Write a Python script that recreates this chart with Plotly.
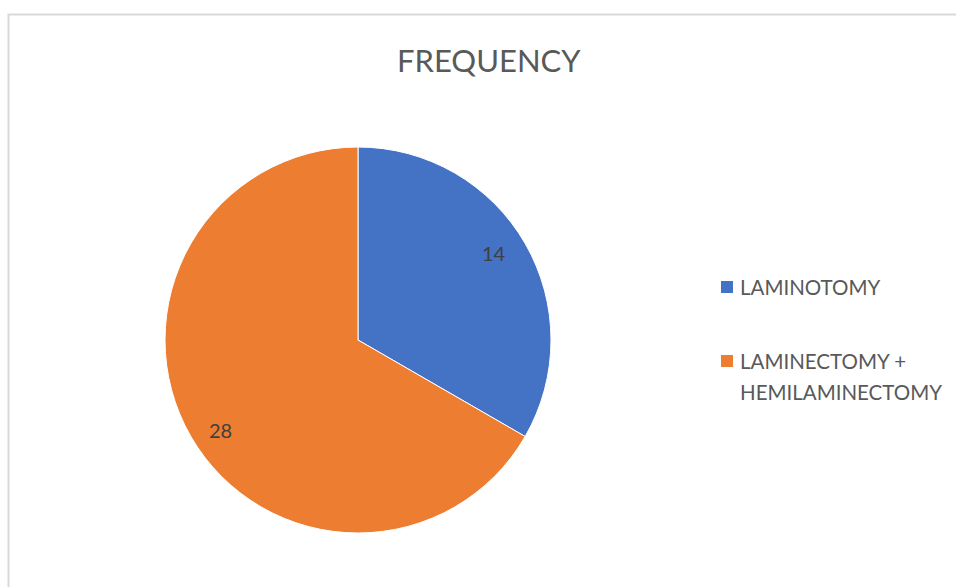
import math
import plotly.graph_objects as go

# Procedure counts
labels = ["LAMINOTOMY", "LAMINECTOMY +<br>HEMILAMINECTOMY"]
values = [14, 28]
colors = ["#4472C4", "#ED7D31"]
title_text = "FREQUENCY"

W, H = 956, 587
CX, CY, R = 358, 340, 193  # pie centre and radius in pixels
FONT = "Lato"
LABEL_NUDGE = [(-4, -6), (3, 9)]  # small pixel nudges for the value labels

def px(x):
    return x / W

def py(y):
    return 1 - y / H

fig = go.Figure(
    go.Pie(
        labels=labels,
        values=values,
        marker=dict(colors=colors, line=dict(color="white", width=1)),
        sort=False,
        direction="clockwise",
        rotation=0,
        textinfo="none",
        showlegend=False,
        domain=dict(x=[px(CX - R), px(CX + R)], y=[py(CY + R), py(CY - R)]),
    )
)

annotations = []

# value labels at each slice's mid-angle
total = sum(values)
cum = 0
for v, (nx, ny) in zip(values, LABEL_NUDGE):
    mid = (cum + v / 2) / total * 2 * math.pi
    cum += v
    rr = 0.84 * R
    x = CX + rr * math.sin(mid) + nx
    y = CY - rr * math.cos(mid) + ny
    annotations.append(dict(
        x=px(x), y=py(y), xref="paper", yref="paper", text=str(v),
        showarrow=False, xanchor="center", yanchor="middle",
        font=dict(family=FONT, size=20, color="#404040"),
    ))

# title
annotations.append(dict(
    x=px(489), y=py(60), xref="paper", yref="paper", text=title_text,
    showarrow=False, xanchor="center", yanchor="middle",
    font=dict(family=FONT, size=31, color="#595959"),
))

# legend: coloured squares with labels
shapes = []
legend_y = [287, 361]
line_gap = 31
for lab, col, ly in zip(labels, colors, legend_y):
    shapes.append(dict(
        type="rect", xref="paper", yref="paper",
        x0=px(721), x1=px(733), y0=py(ly + 6), y1=py(ly - 6),
        fillcolor=col, line=dict(width=0),
    ))
    for i, part in enumerate(lab.split("<br>")):
        annotations.append(dict(
            x=px(738), y=py(ly + i * line_gap), xref="paper", yref="paper",
            text=part, showarrow=False, xanchor="left", yanchor="middle",
            font=dict(family=FONT, size=20.5, color="#595959"),
        ))

# chart area frame
shapes.append(dict(
    type="rect", xref="paper", yref="paper",
    x0=px(8.5), x1=px(W + 10), y0=py(H + 10), y1=py(14.5),
    line=dict(color="#D9D9D9", width=2), fillcolor="rgba(0,0,0,0)",
))

fig.update_layout(
    width=W, height=H,
    margin=dict(l=0, r=0, t=0, b=0),
    paper_bgcolor="white",
    plot_bgcolor="white",
    annotations=annotations,
    shapes=shapes,
)

fig.write_html("out.html")
